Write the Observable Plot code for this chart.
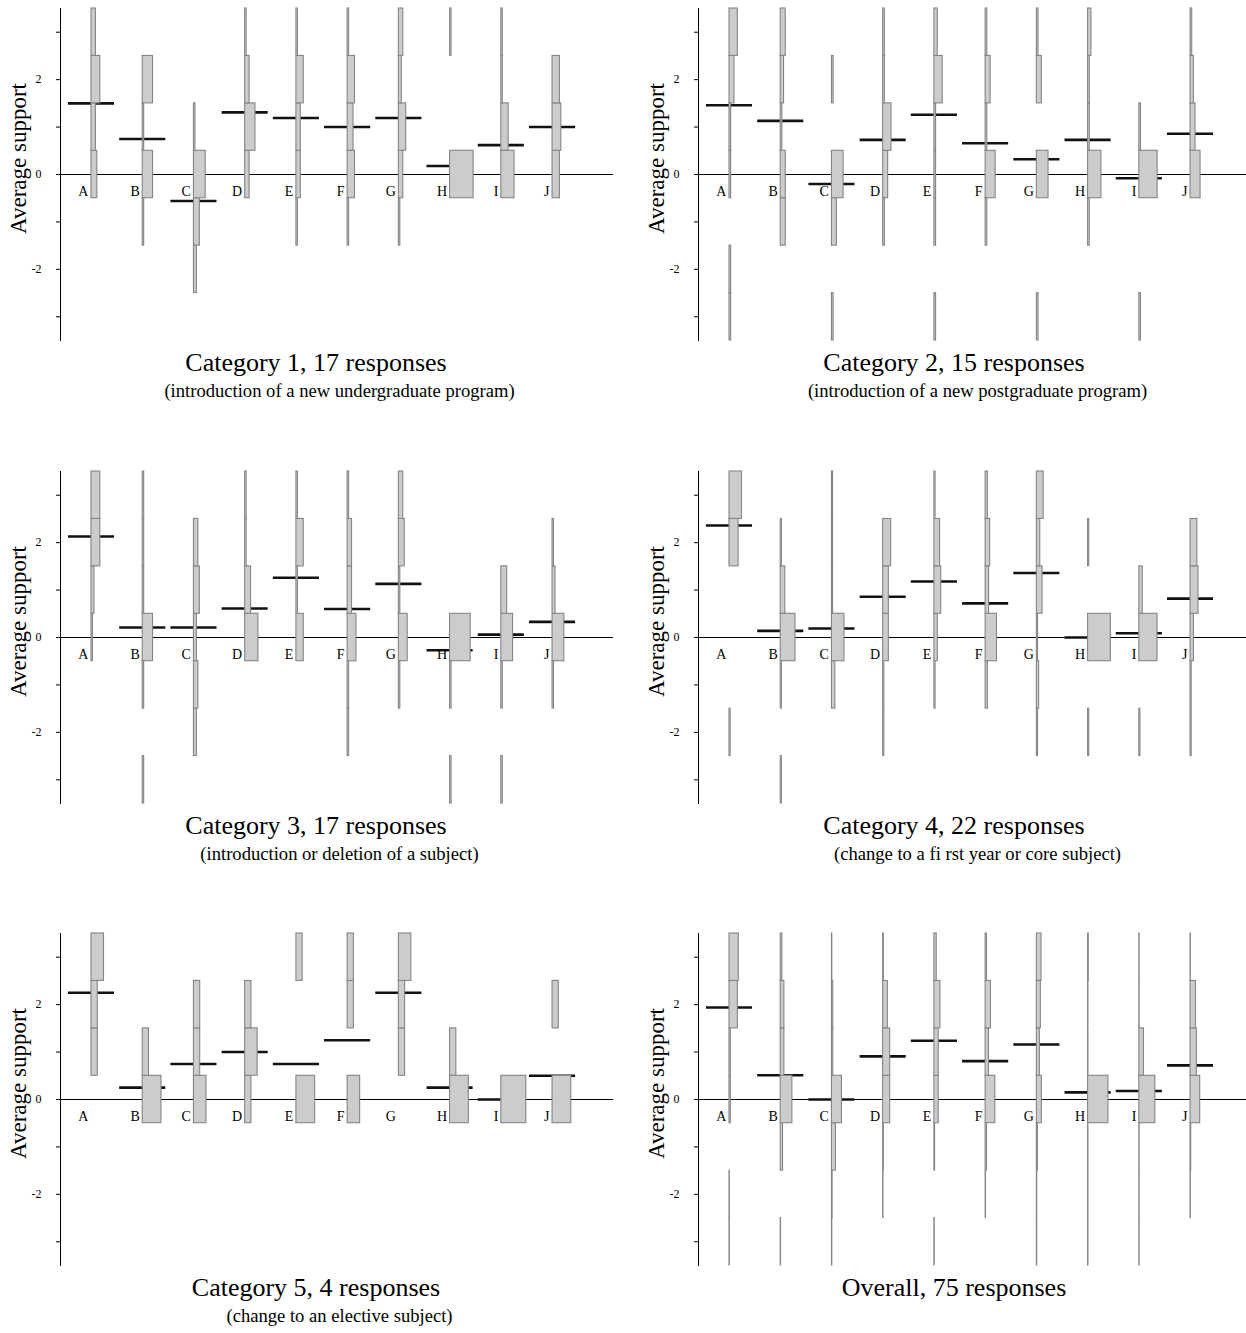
<!DOCTYPE html>
<html><head><meta charset="utf-8">
<script src="https://cdn.jsdelivr.net/npm/d3@7"></script>
<script src="https://cdn.jsdelivr.net/npm/@observablehq/plot@0.6"></script>
<style>
body{margin:0;width:1246px;height:1333px;overflow:hidden;background:#fff;position:relative;font-family:"Liberation Serif","Times New Roman",serif;color:#000;}
.panel{position:absolute;width:623px;height:440px;}
.panel svg{position:absolute;left:0;top:0;}
.title{position:absolute;left:0;width:632px;text-align:center;font-size:26px;top:348px;line-height:30px;white-space:nowrap;}
.sub{position:absolute;left:0;width:679px;text-align:center;font-size:18.6px;top:380px;line-height:22px;white-space:nowrap;}
</style></head><body>
<script>
const categories = ["A","B","C","D","E","F","G","H","I","J"];
const levels = [-3,-2,-1,0,1,2,3];
const tickLabels = ["-2","0","2"];
const panelTitles = ["Category 1, 17 responses","Category 2, 15 responses","Category 3, 17 responses","Category 4, 22 responses","Category 5, 4 responses","Overall, 75 responses"];
const panelSubtitles = ["(introduction of a new undergraduate program)","(introduction of a new postgraduate program)","(introduction or deletion of a subject)","(change to a fi rst year or core subject)","(change to an elective subject)",""];
const panelResponses = [17,15,17,22,4,75];

// counts per category at support levels -3..3
const cat1Counts = [[0,0,0,4,3,6,3],[0,0,1,7,1,7,0],[0,2,4,8,1,0,0],[0,0,0,3,7,3,1],[0,0,1,3,3,5,1],[0,0,1,5,4,5,1],[0,0,1,3,5,2,3],[0,0,0,16,0,0,1],[0,0,0,9,5,1,1],[0,0,0,5,6,5,0]];
const cat2Counts = [[1,1,0,1,1,3,5],[0,0,3,3,1,2,3],[1,0,3,7,0,1,0],[0,0,1,3,5,1,1],[1,0,1,1,1,5,2],[0,0,1,6,1,3,1],[1,0,0,7,0,3,1],[0,0,1,8,1,1,2],[1,0,0,11,1,0,0],[0,0,0,6,3,2,1]];
const cat3Counts = [[0,0,0,1,2,6,6],[1,0,1,7,1,1,1],[0,2,3,2,4,3,0],[0,0,0,9,4,1,1],[0,0,0,5,1,5,1],[0,1,1,6,3,3,1],[0,0,1,6,1,4,3],[1,0,1,14,0,0,0],[1,0,1,8,4,0,0],[0,0,1,8,2,1,0]];
const cat4Counts = [[0,1,0,0,0,8,11],[1,0,1,13,4,1,0],[0,0,3,11,1,1,1],[0,1,1,5,5,7,0],[0,0,1,3,6,5,1],[0,0,2,10,3,4,2],[0,1,2,1,5,3,6],[0,1,0,20,0,1,0],[0,1,0,16,3,0,0],[0,1,1,3,7,6,0]];
const cat5Counts = [[0,0,0,0,1,1,2],[0,0,0,3,1,0,0],[0,0,0,2,1,1,0],[0,0,0,1,2,1,0],[0,0,0,3,0,0,1],[0,0,0,2,0,1,1],[0,0,0,0,1,1,2],[0,0,0,3,1,0,0],[0,0,0,4,0,0,0],[0,0,0,3,0,1,0]];
const overallCounts = [[1,1,0,4,4,25,28],[1,0,7,35,11,11,5],[1,2,12,30,4,4,1],[0,1,2,21,21,14,2],[1,0,2,13,13,18,7],[0,1,4,29,10,16,4],[1,1,3,15,9,12,14],[1,1,1,61,1,1,2],[1,1,1,48,14,1,1],[0,1,2,29,19,16,1]];

// average support per category
const cat1Means = [1.50,0.75,-0.56,1.31,1.19,1.00,1.19,0.18,0.62,1.00];
const cat2Means = [1.46,1.13,-0.20,0.73,1.26,0.66,0.32,0.73,-0.08,0.86];
const cat3Means = [2.13,0.21,0.21,0.61,1.26,0.60,1.13,-0.27,0.06,0.33];
const cat4Means = [2.36,0.14,0.19,0.86,1.18,0.72,1.36,0.00,0.09,0.82];
const cat5Means = [2.25,0.25,0.75,1.00,0.75,1.25,2.25,0.25,0.00,0.50];
const overallMeans = [1.94,0.51,0.00,0.91,1.24,0.81,1.16,0.15,0.18,0.72];

const allCounts = [cat1Counts,cat2Counts,cat3Counts,cat4Counts,cat5Counts,overallCounts];
const allMeans = [cat1Means,cat2Means,cat3Means,cat4Means,cat5Means,overallMeans];

const barScale = 0.488; // full share of responses in category-spacing units

function makePanel(counts, means, n) {
  const rows = [];
  counts.forEach((arr, i) => arr.forEach((c, j) => { if (c > 0) rows.push({i, level: levels[j], c}); }));
  const meanRows = means.map((m, i) => ({i, m}));
  return Plot.plot({
    width: 623, height: 348, marginTop: 8, marginBottom: 8, marginLeft: 60, marginRight: 10,
    x: {domain: [-0.605, 10.19], axis: null},
    y: {domain: [-3.5, 3.5], axis: null, label: null},
    style: {fontFamily: "Liberation Serif, Times New Roman, serif", background: "transparent", overflow: "visible"},
    marks: [
      Plot.ruleY([0], {stroke: "#000", strokeWidth: 1}),
      Plot.ruleY(meanRows, {y: "m", x1: d => d.i - 0.45, x2: d => d.i + 0.45, stroke: "#111", strokeWidth: 2.6}),
      Plot.rect(rows, {x1: "i", x2: d => d.i + d.c / n * barScale, y1: d => d.level - 0.5, y2: d => d.level + 0.5, fill: "#cccccc", stroke: "#858585", strokeWidth: 1.1}),
      Plot.text(categories, {x: (d, i) => i, y: 0, text: d => d, textAnchor: "end", dx: -3, dy: 17, fontSize: 14}),
      Plot.axisY({ticks: levels, tickSize: 4, tickPadding: 15, label: null, tickFormat: d => tickLabels.includes(String(d)) ? String(d) : "", fontSize: 12}),
      Plot.frame({anchor: "left", stroke: "#000"}),
      Plot.text(["Average support"], {frameAnchor: "left", textAnchor: "middle", rotate: -90, dx: -42, dy: -16, fontSize: 23})
    ]
  });
}

for (let p = 0; p < 6; p++) {
  const col = p % 2, row = Math.floor(p / 2);
  const div = document.createElement("div");
  div.className = "panel";
  div.style.left = (col * 638) + "px";
  div.style.top = (row * 462.5) + "px";
  div.appendChild(makePanel(allCounts[p], allMeans[p], panelResponses[p]));
  const t = document.createElement("div");
  t.className = "title"; t.textContent = panelTitles[p];
  div.appendChild(t);
  if (panelSubtitles[p]) {
    const s = document.createElement("div");
    s.className = "sub"; s.textContent = panelSubtitles[p];
    div.appendChild(s);
  }
  document.body.appendChild(div);
}
</script></body></html>
